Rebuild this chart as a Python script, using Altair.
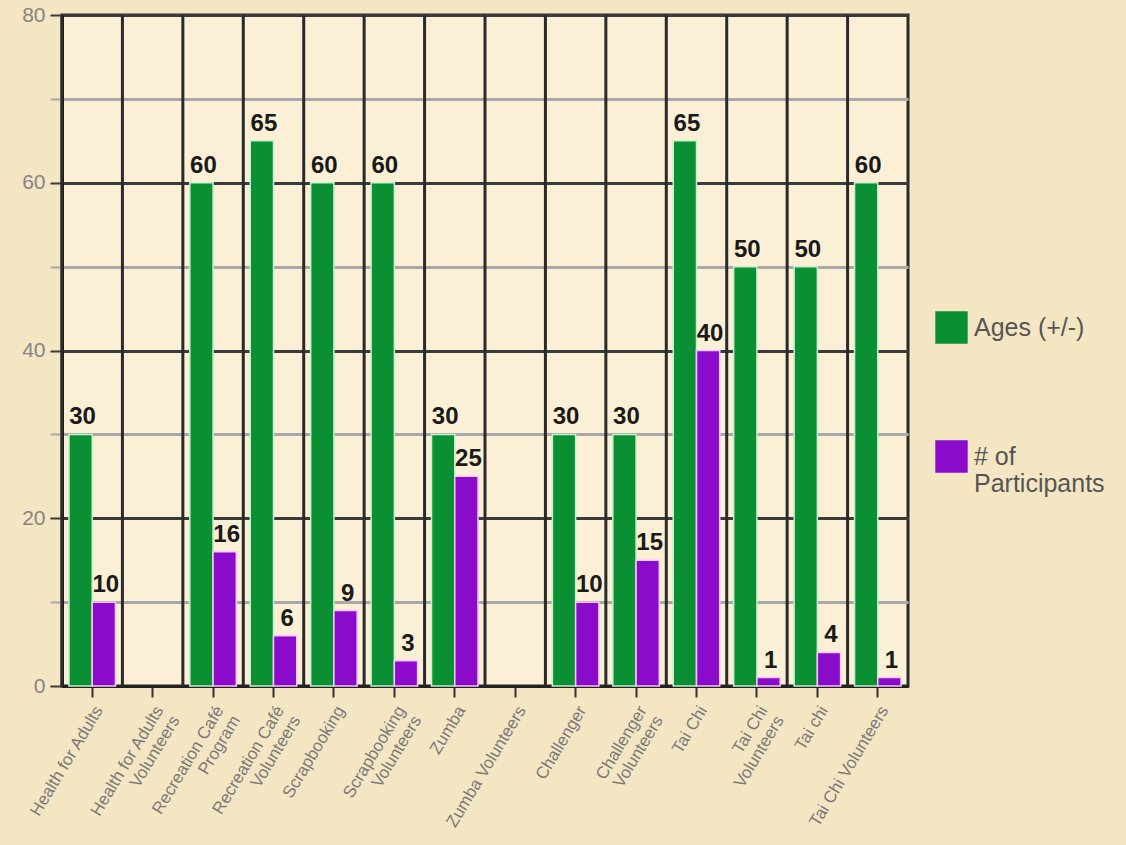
import altair as alt
import pandas as pd

categories = [
    "Health for Adults",
    "Health for Adults|Volunteers",
    "Recreation Café|Program",
    "Recreation Café|Volunteers",
    "Scrapbooking",
    "Scrapbooking|Volunteers",
    "Zumba",
    "Zumba Volunteers",
    "Challenger",
    "Challenger|Volunteers",
    "Tai Chi",
    "Tai Chi|Volunteers",
    "Tai chi",
    "Tai Chi Volunteers",
]
ages = [30, 0, 60, 65, 60, 60, 30, 0, 30, 30, 65, 50, 50, 60]
participants = [10, 0, 16, 6, 9, 3, 25, 0, 10, 15, 40, 1, 4, 1]
series = ["Ages (+/-)", "# of Participants"]
colors = ["#0b8f33", "#8a0bca"]
edge_colors = ["#c6f0cf", "#f6c8f6"]

rows = []
for i, c in enumerate(categories):
    rows.append({"cat": c, "series": series[0], "value": ages[i]})
    rows.append({"cat": c, "series": series[1], "value": participants[i]})
df = pd.DataFrame(rows)
cat_df = pd.DataFrame({"cat": categories})

FONT = "Liberation Sans"


def xenc(**kw):
    return alt.X(
        "cat:N",
        sort=categories,
        scale=alt.Scale(paddingInner=0, paddingOuter=0),
        axis=alt.Axis(
            title=None,
            labelExpr="split(datum.label, '|')",
            labelAngle=-59,
            labelAlign="right",
            labelBaseline="top",
            labelFontSize=17,
            labelColor="#7a7a7a",
            labelFont=FONT,
            labelPadding=6,
            tickColor="#333333",
            tickSize=11,
            tickWidth=2,
            domainColor="#222222",
            domainWidth=3,
            grid=False,
        ),
        **kw,
    )


y = alt.Y(
    "value:Q",
    scale=alt.Scale(domain=[0, 80], nice=False),
    axis=alt.Axis(
        title=None,
        values=list(range(0, 81, 10)),
        labelExpr="datum.value % 20 === 0 ? datum.label : ''",
        labelFontSize=21,
        labelColor="#858585",
        labelFont=FONT,
        labelPadding=5,
        tickSize=12,
        tickWidth=2,
        tickColor={"condition": {"test": "datum.value % 20 === 0", "value": "#3a3a3a"}, "value": "#a8a8a8"},
        gridColor={"condition": {"test": "datum.value % 20 === 0", "value": "#3a3a3a"}, "value": "#a8a8a8"},
        gridWidth=3,
        domainColor="#111111",
        domainWidth=3,
    ),
)

xoff = alt.XOffset("series:N", sort=series, scale=alt.Scale(paddingOuter=0.3, paddingInner=0))

vlines = alt.Chart(cat_df).mark_rule(color="#2a2a2a", strokeWidth=3).encode(
    x=xenc(bandPosition=0)
)

bars = alt.Chart(df).transform_filter("datum.value > 0").mark_bar(strokeWidth=1.5).encode(
    x=xenc(),
    xOffset=xoff,
    y=y,
    color=alt.Color(
        "series:N",
        sort=series,
        scale=alt.Scale(domain=series, range=colors),
        legend=alt.Legend(
            title=None,
            orient="none",
            legendX=873,
            legendY=296,
            symbolType="square",
            symbolSize=1050,
            symbolStrokeWidth=0,
            labelFontSize=25,
            labelColor="#555555",
            labelFont=FONT,
            labelLimit=300,
            labelOffset=6,
            rowPadding=96,
            padding=0,
            labelExpr="datum.label == '# of Participants' ? ['# of', 'Participants'] : datum.label",
        ),
    ),
    stroke=alt.Stroke("series:N", sort=series, scale=alt.Scale(domain=series, range=edge_colors), legend=None),
)

labels = alt.Chart(df).transform_filter("datum.value > 0").mark_text(
    dy=-10, dx=2, fontSize=24, fontWeight="bold", font=FONT, color="#1a1a1a", baseline="alphabetic"
).encode(
    x=xenc(),
    xOffset=xoff,
    y=y,
    text=alt.Text("value:Q"),
)

chart = alt.layer(vlines, bars, labels).properties(
    width=846,
    height=671,
    autosize=alt.AutoSizeParams(type="none"),
    padding={"left": 62, "top": 15, "right": 218, "bottom": 159},
    background="#f5e6c3",
).configure_view(fill="#fbf0d6", stroke="#2a2a2a", strokeWidth=3)

chart.save("out.html", embed_options={"renderer": "svg", "actions": False})
